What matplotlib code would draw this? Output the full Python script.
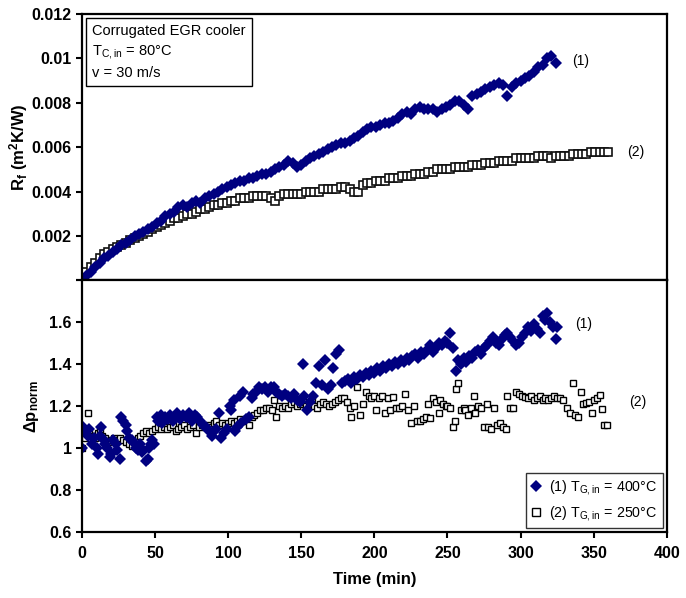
import matplotlib
matplotlib.use("Agg")
from matplotlib import pyplot as plt
from matplotlib.lines import Line2D

plt.rcParams['font.family'] = ['Liberation Sans', 'DejaVu Sans']
plt.rcParams['mathtext.default'] = 'regular'

# ---- top panel: fouling resistance Rf (m2K/W) ----
rf_time_1 = list(range(0, 325, 3))
rf_1 = [0.0000, 0.0002, 0.0004, 0.0006, 0.0008, 0.0010, 0.0011, 0.0013, 0.0014, 0.0016,
        0.0017, 0.0018, 0.0020, 0.0021, 0.0022, 0.0023, 0.0024, 0.0026, 0.0027, 0.0029,
        0.0030, 0.0031, 0.0033, 0.0034, 0.0033, 0.0035, 0.0036, 0.0035, 0.0037, 0.0038,
        0.0039, 0.0040, 0.0041, 0.0042, 0.0043, 0.0044, 0.0045, 0.0045, 0.0046, 0.0046,
        0.0047, 0.0048, 0.0048, 0.0049, 0.0050, 0.0051, 0.0052, 0.0054, 0.0053, 0.0051,
        0.0052, 0.0054, 0.0055, 0.0056, 0.0057, 0.0058, 0.0059, 0.0060, 0.0061, 0.0062,
        0.0062, 0.0063, 0.0064, 0.0065, 0.0067, 0.0068, 0.0069, 0.0069, 0.0070, 0.0071,
        0.0071, 0.0072, 0.0073, 0.0075, 0.0076, 0.0075, 0.0077, 0.0078, 0.0077, 0.0077,
        0.0077, 0.0076, 0.0077, 0.0078, 0.0079, 0.0081, 0.0081, 0.0079, 0.0077, 0.0083,
        0.0084, 0.0085, 0.0086, 0.0087, 0.0088, 0.0089, 0.0088, 0.0083, 0.0087, 0.0089,
        0.0090, 0.0091, 0.0092, 0.0094, 0.0096, 0.0097, 0.0100, 0.0101, 0.0098]

rf_time_2 = list(range(0, 361, 3))
rf_2 = [0.0001, 0.0004, 0.0006, 0.0008, 0.0010, 0.0012, 0.0013, 0.0014, 0.0015, 0.0016,
        0.0017, 0.0018, 0.0019, 0.0020, 0.0021, 0.0022, 0.0023, 0.0024, 0.0025, 0.0026,
        0.0027, 0.0028, 0.0028, 0.0029, 0.0030, 0.0030, 0.0031, 0.0032, 0.0032, 0.0033,
        0.0034, 0.0034, 0.0035, 0.0035, 0.0036, 0.0036, 0.0037, 0.0037, 0.0037, 0.0038,
        0.0038, 0.0038, 0.0038, 0.0037, 0.0036, 0.0038, 0.0039, 0.0039, 0.0039, 0.0039,
        0.0039, 0.0040, 0.0040, 0.0040, 0.0040, 0.0041, 0.0041, 0.0041, 0.0041, 0.0042,
        0.0042, 0.0041, 0.0040, 0.0040, 0.0043, 0.0044, 0.0044, 0.0045, 0.0045, 0.0045,
        0.0046, 0.0046, 0.0046, 0.0047, 0.0047, 0.0047, 0.0048, 0.0048, 0.0048, 0.0049,
        0.0049, 0.0050, 0.0050, 0.0050, 0.0050, 0.0051, 0.0051, 0.0051, 0.0051, 0.0052,
        0.0052, 0.0052, 0.0053, 0.0053, 0.0053, 0.0054, 0.0054, 0.0054, 0.0054, 0.0055,
        0.0055, 0.0055, 0.0055, 0.0055, 0.0056, 0.0056, 0.0056, 0.0055, 0.0056, 0.0056,
        0.0056, 0.0056, 0.0057, 0.0057, 0.0057, 0.0057, 0.0058, 0.0058, 0.0058, 0.0058,
        0.0058]

# ---- bottom panel: normalised pressure drop ----
dp_time_1 = [0, 1, 2, 4, 5, 7, 8, 10, 11, 12, 13, 15, 16, 17, 19, 20, 21, 23, 24, 26,
             27, 28, 30, 31, 32, 34, 35, 37, 38, 40, 41, 42, 44, 45, 46, 47, 48, 49, 51, 52,
             54, 55, 57, 59, 60, 62, 64, 65, 67, 69, 71, 73, 75, 77, 79, 81, 83, 85, 87, 89,
             90, 92, 94, 95, 97, 99, 101, 102, 104, 105, 106, 108, 109, 110, 112, 114, 116, 117, 119, 121,
             123, 125, 127, 129, 131, 133, 135, 137, 139, 141, 143, 145, 147, 149, 151, 152, 154, 156, 158, 160,
             162, 164, 166, 168, 170, 172, 174, 176, 178, 180, 182, 184, 186, 188, 190, 192, 194, 196, 198, 200,
             202, 204, 206, 208, 210, 212, 214, 216, 218, 220, 222, 224, 226, 228, 230, 232, 234, 236, 238, 240,
             242, 244, 246, 248, 250, 252, 254, 256, 257, 259, 261, 263, 265, 267, 269, 271, 273, 275, 277, 279,
             281, 283, 285, 287, 289, 291, 293, 295, 297, 299, 301, 303, 305, 307, 309, 311, 313, 315, 317, 318,
             320, 322, 324, 325]
dp_1 = [1.00, 1.10, 1.08, 1.06, 1.09, 1.02, 1.05, 1.00, 0.97, 1.06, 1.10, 1.04, 1.02, 1.00, 0.96, 0.97, 1.04, 1.02, 0.99, 0.95,
        1.15, 1.13, 1.11, 1.08, 1.05, 1.04, 1.03, 1.00, 0.99, 1.02, 0.98, 0.99, 0.94, 0.95, 1.00, 1.02, 1.04, 1.02, 1.15, 1.13,
        1.16, 1.12, 1.15, 1.14, 1.16, 1.13, 1.15, 1.17, 1.14, 1.16, 1.15, 1.17, 1.13, 1.16, 1.15, 1.13, 1.11, 1.10, 1.08, 1.06,
        1.08, 1.09, 1.17, 1.05, 1.07, 1.09, 1.20, 1.18, 1.23, 1.08, 1.10, 1.25, 1.12, 1.27, 1.14, 1.15, 1.24, 1.26, 1.27, 1.29,
        1.28, 1.29, 1.27, 1.29, 1.29, 1.27, 1.26, 1.25, 1.26, 1.25, 1.24, 1.26, 1.23, 1.22, 1.40, 1.25, 1.18, 1.22, 1.25, 1.31,
        1.39, 1.30, 1.42, 1.28, 1.30, 1.38, 1.45, 1.47, 1.31, 1.32, 1.33, 1.31, 1.34, 1.33, 1.35, 1.34, 1.36, 1.35, 1.37, 1.36,
        1.38, 1.37, 1.39, 1.38, 1.40, 1.39, 1.41, 1.40, 1.42, 1.41, 1.43, 1.42, 1.44, 1.45, 1.43, 1.46, 1.45, 1.47, 1.49, 1.46,
        1.48, 1.50, 1.49, 1.51, 1.50, 1.55, 1.48, 1.37, 1.42, 1.40, 1.43, 1.41, 1.44, 1.43, 1.46, 1.47, 1.45, 1.48, 1.49, 1.51,
        1.53, 1.50, 1.49, 1.52, 1.54, 1.55, 1.53, 1.51, 1.49, 1.50, 1.53, 1.55, 1.58, 1.56, 1.59, 1.57, 1.55, 1.63, 1.61, 1.645,
        1.60, 1.58, 1.52, 1.58]

dp_time_2 = [0, 2, 4, 5, 7, 9, 11, 12, 14, 16, 18, 20, 22, 24, 26, 28, 30, 32, 34, 36,
             38, 40, 42, 44, 46, 48, 50, 52, 54, 56, 58, 60, 62, 64, 66, 68, 70, 72, 74, 76,
             78, 80, 82, 84, 86, 88, 90, 92, 94, 96, 98, 100, 102, 104, 106, 108, 110, 112, 114, 116,
             118, 120, 122, 124, 126, 128, 130, 131, 133, 135, 137, 139, 141, 143, 145, 147, 149, 151, 153, 155,
             157, 159, 161, 163, 165, 167, 169, 171, 173, 175, 177, 179, 181, 183, 184, 186, 188, 190, 192, 194,
             196, 198, 200, 201, 203, 205, 207, 209, 211, 213, 215, 217, 219, 221, 223, 225, 227, 229, 231, 233,
             235, 237, 238, 240, 242, 244, 245, 247, 249, 250, 252, 254, 255, 256, 257, 259, 261, 262, 264, 266,
             268, 269, 271, 273, 275, 277, 278, 280, 282, 284, 286, 288, 290, 291, 293, 295, 297, 299, 301, 303,
             305, 307, 309, 311, 313, 315, 317, 319, 321, 323, 325, 327, 329, 332, 334, 336, 337, 339, 341, 343,
             345, 347, 349, 350, 352, 354, 356, 357, 359]
dp_2 = [1.00, 1.05, 1.17, 1.07, 1.06, 1.05, 1.07, 1.09, 1.06, 1.05, 1.03, 1.04, 1.05, 1.04, 1.05, 1.04, 1.03, 1.02, 1.01, 1.03,
        1.05, 1.06, 1.07, 1.08, 1.07, 1.08, 1.09, 1.10, 1.09, 1.10, 1.09, 1.10, 1.11, 1.08, 1.09, 1.10, 1.11, 1.09, 1.10, 1.11,
        1.07, 1.10, 1.11, 1.10, 1.11, 1.10, 1.12, 1.13, 1.11, 1.12, 1.11, 1.12, 1.13, 1.12, 1.13, 1.14, 1.13, 1.14, 1.11, 1.15,
        1.16, 1.17, 1.18, 1.18, 1.19, 1.19, 1.18, 1.23, 1.15, 1.20, 1.19, 1.20, 1.19, 1.21, 1.22, 1.20, 1.21, 1.22, 1.20, 1.21,
        1.23, 1.20, 1.19, 1.21, 1.22, 1.21, 1.20, 1.21, 1.22, 1.23, 1.24, 1.24, 1.22, 1.19, 1.15, 1.20, 1.29, 1.16, 1.21, 1.27,
        1.25, 1.24, 1.25, 1.18, 1.24, 1.25, 1.17, 1.24, 1.18, 1.245, 1.19, 1.19, 1.20, 1.26, 1.18, 1.12, 1.20, 1.13, 1.13, 1.14,
        1.15, 1.21, 1.145, 1.24, 1.22, 1.17, 1.23, 1.21, 1.20, 1.20, 1.19, 1.10, 1.13, 1.28, 1.31, 1.18, 1.19, 1.18, 1.16, 1.19,
        1.25, 1.17, 1.20, 1.19, 1.10, 1.21, 1.10, 1.09, 1.19, 1.11, 1.12, 1.10, 1.09, 1.25, 1.19, 1.19, 1.27, 1.26, 1.25, 1.245,
        1.24, 1.25, 1.23, 1.24, 1.25, 1.23, 1.24, 1.23, 1.24, 1.25, 1.24, 1.24, 1.23, 1.19, 1.17, 1.31, 1.16, 1.15, 1.27, 1.21,
        1.215, 1.22, 1.17, 1.23, 1.24, 1.255, 1.185, 1.11, 1.11]

navy = "#000080"

fig = plt.figure(figsize=(6.86, 5.98), dpi=100)
ax1 = fig.add_axes([0.1195, 0.531, 0.8525, 0.4456])
ax2 = fig.add_axes([0.1195, 0.1104, 0.8525, 0.4206])

# -------------------------------
# TOP PANEL
# -------------------------------
ax1.plot(rf_time_2, rf_2, linestyle="none", marker="s", markersize=5.5,
         markerfacecolor="white", markeredgecolor="#111111", markeredgewidth=1.2)
ax1.plot(rf_time_1, rf_1, linestyle="none", marker="D", markersize=6.5,
         color=navy, markeredgewidth=0)

ax1.set_xlim(0, 400)
ax1.set_ylim(0, 0.012)
ax1.set_yticks([0, 0.002, 0.004, 0.006, 0.008, 0.010, 0.012])
ax1.set_yticklabels(["", "0.002", "0.004", "0.006", "0.008", "0.01", "0.012"])
ax1.set_xticks([])
ax1.set_ylabel(r"R$_{f}$ (m$^{2}$K/W)", fontsize=12, fontweight="bold", labelpad=1)

ax1.text(7, 0.01155,
         "Corrugated EGR cooler\nT$_{C,in}$ = 80°C\nv = 30 m/s",
         fontsize=10.5, va="top", ha="left", linespacing=1.45,
         bbox=dict(boxstyle="square,pad=0.4", facecolor="white", edgecolor="black", linewidth=1.0))

ax1.text(335, 0.0099, "(1)", fontsize=10, va="center")
ax1.text(373, 0.0058, "(2)", fontsize=10, va="center")

# -------------------------------
# BOTTOM PANEL
# -------------------------------
ax2.plot(dp_time_2, dp_2, linestyle="none", marker="s", markersize=5,
         markerfacecolor="white", markeredgecolor="black", markeredgewidth=1.0)
ax2.plot(dp_time_1, dp_1, linestyle="none", marker="D", markersize=6.5,
         color=navy, markeredgewidth=0)

ax2.set_xlim(0, 400)
ax2.set_ylim(0.6, 1.8)
ax2.set_xticks(range(0, 401, 50))
ax2.set_yticks([0.6, 0.8, 1.0, 1.2, 1.4, 1.6, 1.8])
ax2.set_yticklabels(["0.6", "0.8", "1", "1.2", "1.4", "1.6", ""])
ax2.set_xlabel("Time (min)", fontsize=12, fontweight="bold", labelpad=8)
ax2.set_ylabel(r"$\Delta$p$_{norm}$", fontsize=12, fontweight="bold", labelpad=6)

ax2.text(337, 1.59, "(1)", fontsize=10, va="center")
ax2.text(374, 1.22, "(2)", fontsize=10, va="center")

handles = [
    Line2D([], [], linestyle="none", marker="D", markersize=6, color=navy, markeredgewidth=0),
    Line2D([], [], linestyle="none", marker="s", markersize=6,
           markerfacecolor="white", markeredgecolor="black", markeredgewidth=1.0),
]
labels = ["(1) T$_{G,in}$ = 400°C", "(2) T$_{G,in}$ = 250°C"]
leg = ax2.legend(handles, labels, loc="lower right", fontsize=10.3, frameon=True,
                 fancybox=False, edgecolor="black", handlelength=0.8, handletextpad=0.5,
                 borderaxespad=0.3, borderpad=0.35, labelspacing=0.45)
leg.get_frame().set_linewidth(1.0)

for ax in (ax1, ax2):
    for s in ax.spines.values():
        s.set_linewidth(1.6)
    ax.tick_params(direction="out", length=4, width=1.5, labelsize=11.5)
    for lbl in ax.get_yticklabels() + ax.get_xticklabels():
        lbl.set_fontweight("bold")

ax2.tick_params(axis="x", pad=6)

fig.savefig("out.png", dpi=100)
